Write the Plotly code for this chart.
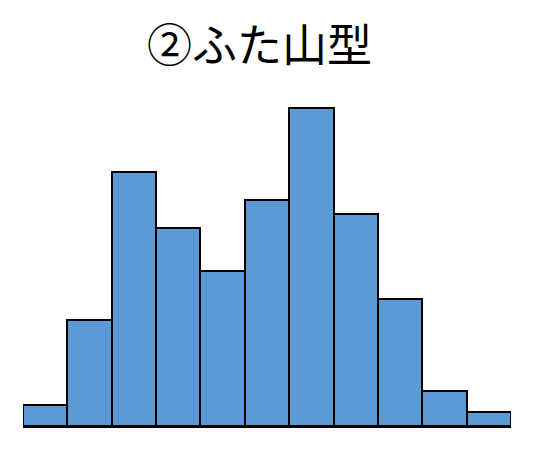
import plotly.graph_objects as go

# 度数分布（ふた山型）
classes = list(range(1, 12))
counts = [3, 15, 36, 28, 22, 32, 45, 30, 18, 5, 2]

fig = go.Figure()
fig.add_trace(
    go.Bar(x=classes, y=counts,
           marker=dict(color="#5B9BD5", line=dict(color="black", width=2)))
)
fig.update_layout(
    width=534, height=449,
    margin=dict(l=15, r=31, t=72, b=31),
    paper_bgcolor="white", plot_bgcolor="white",
    bargap=0, showlegend=False,
)
fig.add_annotation(text="②ふた山型", xref="paper", yref="paper",
                   x=0.485, y=1.108, xanchor="center", yanchor="middle",
                   showarrow=False,
                   font=dict(family="Noto Sans CJK JP", size=45, color="black"))
fig.update_xaxes(range=[0.5, 11.5], showline=True, linecolor="black", linewidth=2,
                 showticklabels=False, ticks="", showgrid=False, zeroline=False)
fig.update_yaxes(range=[0, 49], visible=False, showgrid=False, zeroline=False)
fig.write_html("out.html")
